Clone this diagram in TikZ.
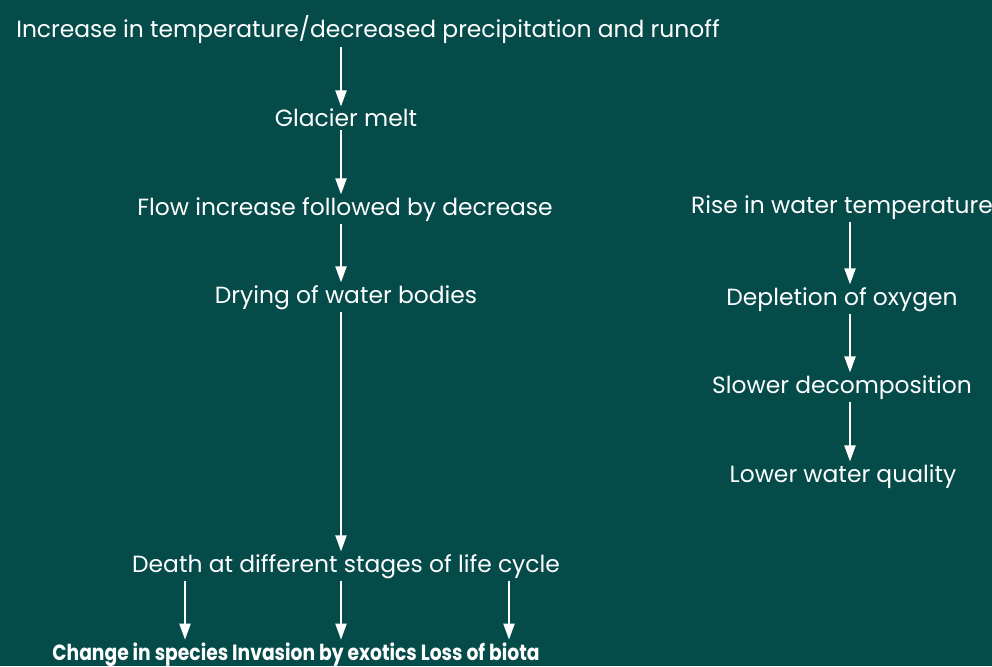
\documentclass[tikz,border=0pt]{standalone}
\usepackage{fontspec}
\setmainfont{Poppins}
\newfontfamily\flowBoldFont[FakeStretch=0.85]{Poppins}
\usetikzlibrary{arrows.meta}
\definecolor{bgTeal}{RGB}{4,75,73}
\tikzset{
    flowText/.style={text=white, anchor=base, inner xsep=0pt, inner ysep=2.5pt, font=\fontsize{23.4}{27}\selectfont},
    flowArrow/.style={white, line width=2pt, -{Triangle[length=16pt, width=11pt]}}
}

\begin{document}
\begin{tikzpicture}[x=1pt, y=-1pt]
    \fill[bgTeal] (0,0) rectangle (992,666);
    \useasboundingbox (0,0) rectangle (992,666);
    \node[flowText] (incTemp) at (368, 38) {Increase in temperature/decreased precipitation and runoff};
    \node[flowText] (glacier) at (346, 127) {Glacier melt};
    \node[flowText] (flowInc) at (345, 215) {Flow increase followed by decrease};
    \node[flowText] (drying) at (346, 303) {Drying of water bodies};
    \node[flowText] (death) at (346, 572) {Death at different stages of life cycle};
    \node[flowText, font=\fontsize{22}{25}\flowBoldFont\bfseries] (effects) at (296, 660) {Change in species Invasion by exotics Loss of biota};
    \node[flowText] (riseTemp) at (842, 213) {Rise in water temperature};
    \node[flowText] (oxygen) at (842, 305) {Depletion of oxygen};
    \node[flowText] (slower) at (842, 393) {Slower decomposition};
    \node[flowText] (quality) at (843, 482) {Lower water quality};
    \draw[flowArrow] ([xshift=-27pt]incTemp.south) -- ([xshift=-5pt]glacier.north);
    \draw[flowArrow] ([xshift=-5pt]glacier.south) -- ([xshift=-4pt]flowInc.north);
    \draw[flowArrow] ([xshift=-4pt]flowInc.south) -- ([xshift=-5pt]drying.north);
    \draw[flowArrow] ([xshift=-5pt]drying.south) -- ([xshift=-5pt]death.north);
    \foreach \dx/\ex in {-161/-111, -5/45, 163/213} {
        \draw[flowArrow] ([xshift=\dx pt]death.south) -- ([xshift=\ex pt]effects.north);
    }
    \draw[flowArrow] ([xshift=8pt]riseTemp.south) -- ([xshift=8pt]oxygen.north);
    \draw[flowArrow] ([xshift=8pt]oxygen.south) -- ([xshift=8pt]slower.north);
    \draw[flowArrow] ([xshift=8pt]slower.south) -- ([xshift=7pt]quality.north);
\end{tikzpicture}
\end{document}
